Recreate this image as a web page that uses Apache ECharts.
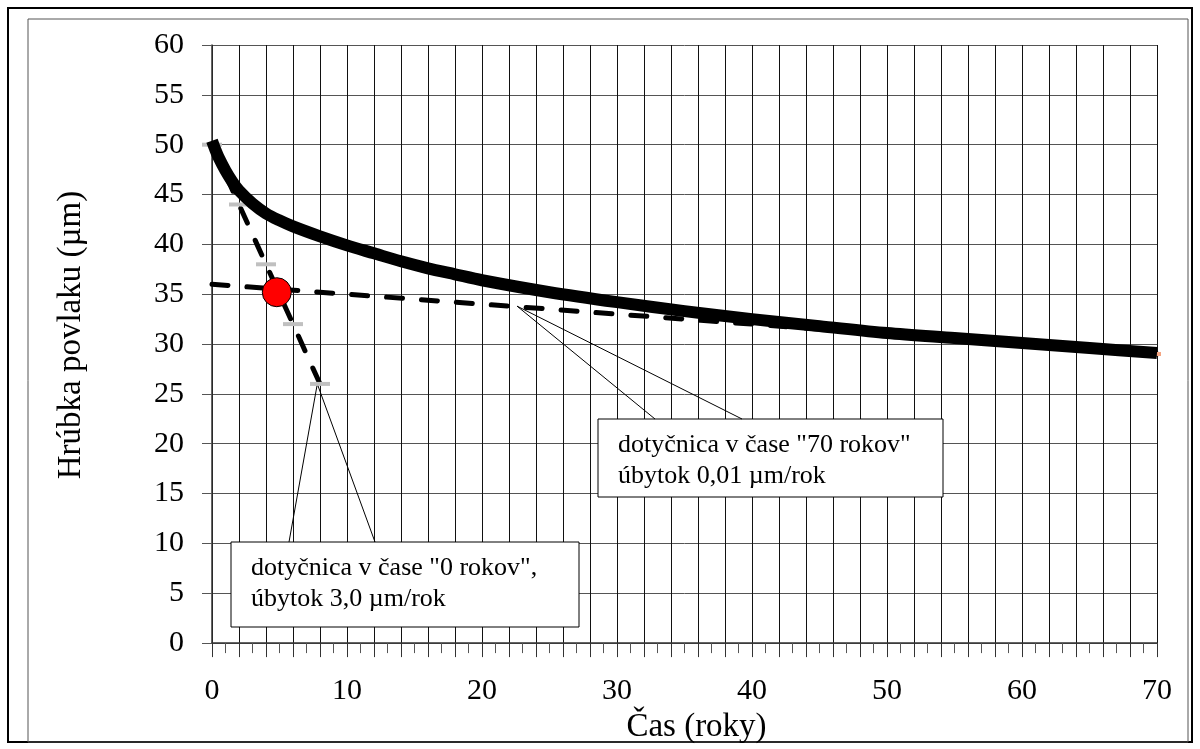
<!DOCTYPE html>
<html>
<head>
<meta charset="utf-8">
<script src="https://cdn.jsdelivr.net/npm/echarts@6/dist/echarts.min.js"></script>
<style>
  html, body { margin: 0; padding: 0; background: #fff; }
  #chart { width: 1200px; height: 749px; }
</style>
</head>
<body>
<div id="chart"></div>
<script>
// hrubka povlaku v case (odcitane z grafu)
const years = [0, 0.25, 0.5, 1, 1.5, 2, 3, 4, 5, 6, 8, 10, 12, 14, 16, 18, 20, 25, 30, 35, 40, 45, 50, 55, 60, 65, 70];
const thickness = [50.4, 49.5, 48.7, 47.4, 46.3, 45.4, 44.1, 43.1, 42.4, 41.8, 40.8, 39.9, 39.1, 38.3, 37.6, 37.0, 36.4, 35.2, 34.2, 33.3, 32.5, 31.8, 31.1, 30.6, 30.1, 29.6, 29.1];

// dotycnica v case 0 rokov
const tangentStartX = [0, 2, 4, 6, 8];
const tangentStartY = [50, 44, 38, 32, 26];
// dotycnica v case 70 rokov
const tangentEndX = [0, 70];
const tangentEndY = [36, 29];
// priesecnik
const crossX = [4.8];
const crossY = [35.2];

const xTicks = [0, 10, 20, 30, 40, 50, 60, 70];
const yTicks = [0, 5, 10, 15, 20, 25, 30, 35, 40, 45, 50, 55, 60];

const calloutTexts = [
  ['dotyčnica v čase "0 rokov",', 'úbytok 3,0 µm/rok'],
  ['dotyčnica v čase "70 rokov"', 'úbytok 0,01 µm/rok']
];
const calloutTargets = [[7.8, 26], [22.6, 33.8]];

const FONT = "'Liberation Serif', 'Times New Roman', serif";

const zip = (xs, ys) => xs.map((x, i) => [x, ys[i]]);

const chart = echarts.init(document.getElementById('chart'), null, { renderer: 'canvas' });

// marker len na konci dotycnice v case 70
const tangentEndData = zip(tangentEndX, tangentEndY).map((p, i) =>
  i === tangentEndX.length - 1 ? { value: p } : { value: p, symbol: 'none' });

chart.setOption({
  animation: false,
  backgroundColor: '#fff',
  grid: { left: 212, right: 43, top: 45, bottom: 105 },
  xAxis: {
    type: 'value',
    min: 0, max: 70, interval: 2,
    name: 'Čas (roky)',
    nameLocation: 'middle',
    nameGap: 60,
    nameTextStyle: { fontFamily: FONT, fontSize: 33, color: '#000', padding: [0, 0, 0, 24] },
    axisLine: { lineStyle: { color: '#333', width: 1.5 } },
    axisTick: { inside: false, length: 14, lineStyle: { color: '#333' } },
    minorTick: { show: true, splitNumber: 2, length: 10, lineStyle: { color: '#555' } },
    axisLabel: {
      margin: 33,
      fontFamily: FONT, fontSize: 30, color: '#000',
      formatter: v => xTicks.indexOf(v) >= 0 ? String(v) : ''
    },
    splitLine: { show: true, lineStyle: { color: '#111', width: 1 } }
  },
  yAxis: {
    type: 'value',
    min: 0, max: 60, interval: 5,
    name: 'Hrúbka povlaku (µm)',
    nameLocation: 'middle',
    nameGap: 124,
    nameRotate: 90,
    nameTextStyle: { fontFamily: FONT, fontSize: 33, color: '#000', padding: [0, 0, 0, 18] },
    axisLine: { show: true, lineStyle: { color: '#333', width: 1.5 } },
    axisTick: { show: true, length: 10, lineStyle: { color: '#555' } },
    axisLabel: {
      margin: 28,
      fontFamily: FONT, fontSize: 30, color: '#000',
      formatter: v => yTicks.indexOf(v) >= 0 ? String(v) : ''
    },
    splitLine: { show: true, lineStyle: { color: '#555', width: 1 } }
  },
  series: [
    {
      name: 'dotyčnica 0',
      type: 'line',
      data: zip(tangentStartX, tangentStartY),
      clip: false,
      symbol: 'rect',
      symbolSize: [20, 4],
      itemStyle: { color: '#c0c0c0' },
      lineStyle: { color: '#000', width: 5, type: [16, 19], cap: 'round' },
      z: 3
    },
    {
      name: 'dotyčnica 70',
      type: 'line',
      data: tangentEndData,
      clip: false,
      symbol: 'rect',
      symbolSize: [8, 4],
      itemStyle: { color: '#f4a582' },
      lineStyle: { color: '#000', width: 5, type: [16, 19], cap: 'round' },
      z: 3
    },
    {
      name: 'hrúbka',
      type: 'line',
      data: zip(years, thickness),
      smooth: 0.3,
      showSymbol: false,
      symbol: 'none',
      lineStyle: { color: '#000', width: 12, cap: 'butt', join: 'round' },
      z: 4
    },
    {
      name: 'priesečník',
      type: 'scatter',
      data: zip(crossX, crossY),
      symbolSize: 29,
      itemStyle: { color: '#ff0000', borderColor: '#000', borderWidth: 1, opacity: 1 },
      z: 5
    }
  ]
});

// callouty a ramy
function callout(idx, box) {
  const tip = chart.convertToPixel({ gridIndex: 0 }, calloutTargets[idx]);
  return {
    type: 'group',
    z: 100,
    children: [
      {
        type: 'rect',
        shape: { x: box.x, y: box.y, width: box.w, height: box.h },
        style: { fill: '#fff', stroke: '#000', lineWidth: 1 }
      },
      {
        type: 'polyline',
        shape: { points: [[box.x + box.b1, box.y], tip, [box.x + box.b2, box.y]] },
        style: { fill: null, stroke: '#000', lineWidth: 1 }
      },
      {
        type: 'text',
        x: box.x + 20, y: box.y + 11,
        style: {
          text: calloutTexts[idx].join('\n'),
          font: '26px ' + FONT,
          fill: '#000',
          lineHeight: 31
        }
      }
    ]
  };
}

chart.setOption({
  graphic: [
    {
      type: 'rect', z: 0, silent: true,
      shape: { x: 8, y: 8, width: 1184, height: 734 },
      style: { fill: null, stroke: '#000', lineWidth: 2 }
    },
    {
      type: 'rect', z: 0, silent: true,
      shape: { x: 28, y: 19, width: 1160, height: 723 },
      style: { fill: null, stroke: '#555', lineWidth: 1 }
    },
    callout(0, { x: 231, y: 542, w: 348, h: 85, b1: 58, b2: 144 }),
    callout(1, { x: 598, y: 419, w: 345, h: 78, b1: 57, b2: 144 })
  ]
});
</script>
</body>
</html>
